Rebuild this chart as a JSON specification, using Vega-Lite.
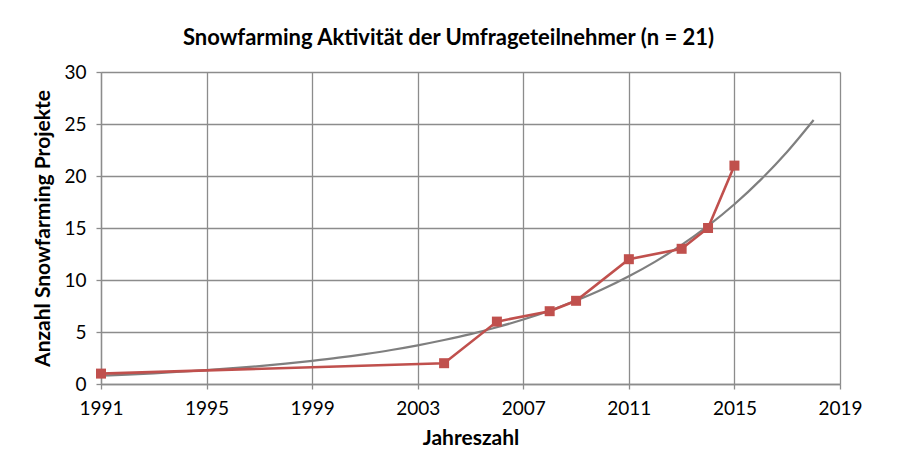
{
  "$schema": "https://vega.github.io/schema/vega-lite/v6.json",
  "width": 739,
  "height": 312,
  "autosize": "none",
  "padding": {"left": 101, "top": 72, "right": 60, "bottom": 78},
  "background": "white",
  "config": {
    "font": "Lato",
    "view": {"stroke": null},
    "axis": {
      "gridColor": "#8c8c8c",
      "gridWidth": 1.3,
      "domainColor": "#8c8c8c",
      "domainWidth": 1.3,
      "tickColor": "#8c8c8c",
      "tickWidth": 1.3,
      "tickSize": 5,
      "labelColor": "#000000",
      "labelFont": "Lato",
      "labelFontSize": 19,
      "labelFlush": false,
      "titleFont": "Lato",
      "titleFontSize": 21,
      "titleFontWeight": "bold",
      "titleColor": "#000000"
    }
  },
  "title": {
    "text": "Snowfarming Aktivität der Umfrageteilnehmer (n = 21)",
    "font": "Lato",
    "fontSize": 22,
    "fontWeight": "bold",
    "color": "#000000",
    "anchor": "middle",
    "dx": -22,
    "offset": 13
  },
  "datasets": {
    "projekte": [
      {"jahr": 1991, "anzahl": 1},
      {"jahr": 2004, "anzahl": 2},
      {"jahr": 2006, "anzahl": 6},
      {"jahr": 2008, "anzahl": 7},
      {"jahr": 2009, "anzahl": 8},
      {"jahr": 2011, "anzahl": 12},
      {"jahr": 2013, "anzahl": 13},
      {"jahr": 2014, "anzahl": 15},
      {"jahr": 2015, "anzahl": 21}
    ],
    "trend": [
      {"jahr": 1991, "wert": 0.80},
      {"jahr": 1992, "wert": 0.91},
      {"jahr": 1993, "wert": 1.03},
      {"jahr": 1994, "wert": 1.18},
      {"jahr": 1995, "wert": 1.34},
      {"jahr": 1996, "wert": 1.52},
      {"jahr": 1997, "wert": 1.72},
      {"jahr": 1998, "wert": 1.96},
      {"jahr": 1999, "wert": 2.23},
      {"jahr": 2000, "wert": 2.53},
      {"jahr": 2001, "wert": 2.88},
      {"jahr": 2002, "wert": 3.27},
      {"jahr": 2003, "wert": 3.72},
      {"jahr": 2004, "wert": 4.23},
      {"jahr": 2005, "wert": 4.80},
      {"jahr": 2006, "wert": 5.46},
      {"jahr": 2007, "wert": 6.20},
      {"jahr": 2008, "wert": 7.05},
      {"jahr": 2009, "wert": 8.02},
      {"jahr": 2010, "wert": 9.11},
      {"jahr": 2011, "wert": 10.36},
      {"jahr": 2012, "wert": 11.77},
      {"jahr": 2013, "wert": 13.38},
      {"jahr": 2014, "wert": 15.21},
      {"jahr": 2015, "wert": 17.28},
      {"jahr": 2016, "wert": 19.65},
      {"jahr": 2017, "wert": 22.33},
      {"jahr": 2018, "wert": 25.38}
    ]
  },
  "layer": [
    {
      "data": {"name": "trend"},
      "mark": {"type": "line", "color": "#7f7f7f", "strokeWidth": 2.2, "interpolate": "monotone"},
      "encoding": {
        "x": {
          "field": "jahr",
          "type": "quantitative",
          "scale": {"domain": [1991, 2019], "nice": false, "zero": false},
          "axis": {
            "values": [1991, 1995, 1999, 2003, 2007, 2011, 2015, 2019],
            "format": "d",
            "title": "Jahreszahl",
            "labelPadding": 10,
            "titlePadding": 9,
            "grid": true
          }
        },
        "y": {
          "field": "wert",
          "type": "quantitative",
          "scale": {"domain": [0, 30], "nice": false},
          "axis": {
            "values": [0, 5, 10, 15, 20, 25, 30],
            "title": "Anzahl Snowfarming Projekte",
            "labelPadding": 10,
            "titlePadding": 10,
            "grid": true
          }
        }
      }
    },
    {
      "data": {"name": "projekte"},
      "mark": {"type": "line", "color": "#c0504d", "strokeWidth": 2.6},
      "encoding": {
        "x": {"field": "jahr", "type": "quantitative"},
        "y": {"field": "anzahl", "type": "quantitative"}
      }
    },
    {
      "data": {"name": "projekte"},
      "mark": {"type": "point", "shape": "square", "filled": true, "color": "#c0504d", "size": 100, "opacity": 1},
      "encoding": {
        "x": {"field": "jahr", "type": "quantitative"},
        "y": {"field": "anzahl", "type": "quantitative"}
      }
    }
  ]
}
